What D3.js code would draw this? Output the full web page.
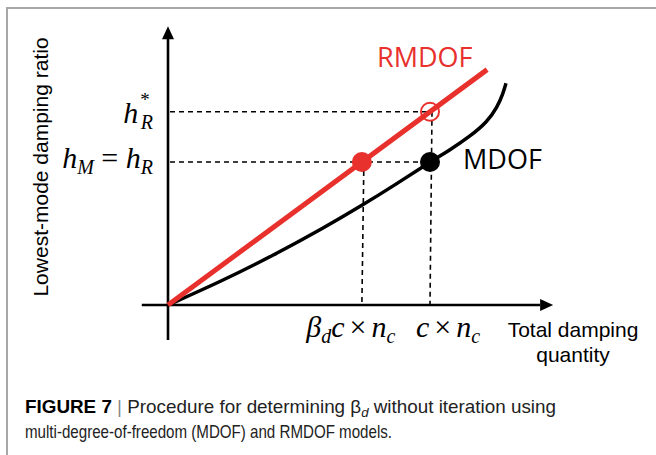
<!DOCTYPE html>
<html>
<head>
<meta charset="utf-8">
<script src="https://cdn.jsdelivr.net/npm/d3@7"></script>
<style>
  body { margin: 0; background: #fff; }
  svg { display: block; }
</style>
</head>
<body>
<svg id="fig" width="656" height="455"></svg>
<script>
// data (conceptual units: c x n_c = 1, h_M = h_R = 1)
var betaD = 0.74;
var rmdofX = [0, 1.218];
var rmdofY = [0, 1.218 / 0.74];
var mdofX = [0, 0.2, 0.4, 0.6, 0.74, 0.87, 1.0, 1.076, 1.153, 1.218, 1.256, 1.279, 1.29];
var mdofY = [0, 0.163, 0.345, 0.545, 0.696, 0.844, 1.0, 1.084, 1.18, 1.28, 1.38, 1.48, 1.55];
var hStar = 1 / betaD;
var xTicks = [betaD, 1.0];
var yTicks = [1.0, hStar];

var red = '#e8302c';
var svg = d3.select('#fig');

var x = d3.scaleLinear().domain([0, 1]).range([168, 430]);
var y = d3.scaleLinear().domain([0, 1]).range([305, 162]);

// frame
svg.append('path')
    .attr('d', 'M7,455 L7,8 L656,8')
    .attr('fill', 'none')
    .attr('stroke', '#a8a8a8')
    .attr('stroke-width', 2);

// dashed guides
var guides = [
    [[0, hStar], [1, hStar]],
    [[1, hStar], [1, 0]],
    [[0, 1], [1, 1]],
    [[betaD, 1], [betaD, 0]]
];
svg.append('g').selectAll('line')
    .data(guides)
    .enter().append('line')
    .attr('x1', d => x(d[0][0]) + 2)
    .attr('y1', d => y(d[0][1]))
    .attr('x2', d => x(d[1][0]))
    .attr('y2', d => y(d[1][1]))
    .attr('stroke', '#000')
    .attr('stroke-width', 1.6)
    .attr('stroke-dasharray', '5,4');

// axes
svg.append('line')
    .attr('x1', x(0)).attr('y1', y(-0.245))
    .attr('x2', x(0)).attr('y2', y(1.87))
    .attr('stroke', '#000').attr('stroke-width', 2.6);
svg.append('line')
    .attr('x1', x(-0.1)).attr('y1', y(0))
    .attr('x2', x(1.42)).attr('y2', y(0))
    .attr('stroke', '#000').attr('stroke-width', 2.6);
var ty = y(1.95), tx = x(1.47);
svg.append('path')
    .attr('d', 'M' + x(0) + ',' + ty + ' l-6,13 l12,0 z')
    .attr('fill', '#000');
svg.append('path')
    .attr('d', 'M' + tx + ',' + y(0) + ' l-13,-6 l0,12 z')
    .attr('fill', '#000');

// curves
svg.append('path')
    .datum(d3.zip(mdofX, mdofY))
    .attr('d', d3.line().x(d => x(d[0])).y(d => y(d[1])).curve(d3.curveBasis))
    .attr('fill', 'none')
    .attr('stroke', '#000')
    .attr('stroke-width', 3.5);
svg.append('path')
    .datum(d3.zip(rmdofX, rmdofY))
    .attr('d', d3.line().x(d => x(d[0])).y(d => y(d[1])))
    .attr('fill', 'none')
    .attr('stroke', red)
    .attr('stroke-width', 5);

// markers
svg.append('circle').attr('cx', x(betaD)).attr('cy', y(1)).attr('r', 10).attr('fill', red);
svg.append('circle').attr('cx', x(1)).attr('cy', y(1)).attr('r', 10).attr('fill', '#000');
svg.append('circle').attr('cx', x(1)).attr('cy', y(hStar)).attr('r', 9)
    .attr('fill', 'none').attr('stroke', red).attr('stroke-width', 2);

// series labels
svg.append('text').attr('x', 377).attr('y', 67)
    .attr('font-family', 'Open Sans, sans-serif').attr('font-size', 27)
    .attr('fill', red).text('RMDOF');
svg.append('text').attr('x', 463).attr('y', 169)
    .attr('font-family', 'Open Sans, sans-serif').attr('font-size', 27)
    .attr('fill', '#000').text('MDOF');

// math labels
var serif = 'Liberation Serif, Times New Roman, serif';
function mathText(xp, yp, anchor) {
    return svg.append('text')
        .attr('x', xp).attr('y', yp)
        .attr('text-anchor', anchor)
        .attr('font-family', serif)
        .attr('font-style', 'italic')
        .attr('font-size', 30)
        .attr('fill', '#000');
}
var t1 = mathText(153, y(hStar) + 11, 'end');
t1.append('tspan').text('h');
t1.append('tspan').attr('font-size', 19).attr('dy', -17).attr('dx', 2).attr('font-style', 'normal').text('*');
t1.append('tspan').attr('font-size', 20).attr('dx', -9).attr('dy', 23).text('R');

var t2 = mathText(153, y(1) + 6, 'end');
t2.append('tspan').text('h');
t2.append('tspan').attr('font-size', 20).attr('dy', 6).text('M');
t2.append('tspan').attr('dy', -6).attr('font-style', 'normal').text(' = ');
t2.append('tspan').text('h');
t2.append('tspan').attr('font-size', 20).attr('dy', 6).text('R');

var t3 = mathText(x(xTicks[0]) - 11, 337, 'middle');
t3.append('tspan').text('β');
t3.append('tspan').attr('font-size', 20).attr('dy', 6).text('d');
t3.append('tspan').attr('dy', -6).text('c');
t3.append('tspan').attr('font-style', 'normal').attr('dx', 5).text('×');
t3.append('tspan').attr('dx', 5).text('n');
t3.append('tspan').attr('font-size', 20).attr('dy', 6).text('c');

var t4 = mathText(x(xTicks[1]) + 18, 337, 'middle');
t4.append('tspan').text('c');
t4.append('tspan').attr('font-style', 'normal').attr('dx', 5).text('×');
t4.append('tspan').attr('dx', 5).text('n');
t4.append('tspan').attr('font-size', 20).attr('dy', 6).text('c');

// axis titles
var sans = 'Liberation Sans, Arial, sans-serif';
var xt = svg.append('text').attr('text-anchor', 'middle')
    .attr('font-family', sans).attr('font-size', 21).attr('fill', '#000');
xt.append('tspan').attr('x', 573).attr('y', 337).text('Total damping');
xt.append('tspan').attr('x', 573).attr('y', 362).text('quantity');

svg.append('text')
    .attr('transform', 'translate(48,167) rotate(-90)')
    .attr('text-anchor', 'middle')
    .attr('font-family', sans).attr('font-size', 21).attr('fill', '#000')
    .text('Lowest-mode damping ratio');

// caption
var cap1 = svg.append('text').attr('x', 25).attr('y', 413)
    .attr('font-family', sans).attr('font-size', 18.5).attr('fill', '#222')
    .attr('textLength', 531).attr('lengthAdjust', 'spacingAndGlyphs');
cap1.append('tspan').attr('font-weight', 'bold').attr('fill', '#000').text('FIGURE 7');
cap1.append('tspan').attr('fill', '#888').text(' | ');
cap1.append('tspan').text('Procedure for determining β');
cap1.append('tspan').attr('font-size', 13).attr('font-style', 'italic').attr('dy', 4).text('d');
cap1.append('tspan').attr('dy', -4).text(' without iteration using');
svg.append('text').attr('x', 25).attr('y', 438)
    .attr('font-family', sans).attr('font-size', 18.5).attr('fill', '#222')
    .attr('textLength', 367).attr('lengthAdjust', 'spacingAndGlyphs')
    .text('multi-degree-of-freedom (MDOF) and RMDOF models.');
</script>
</body>
</html>
